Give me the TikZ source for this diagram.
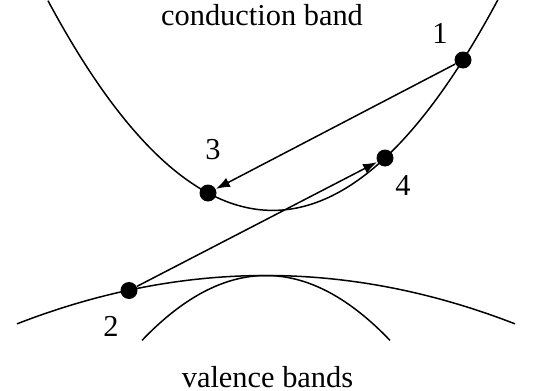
\documentclass[tikz,border=0pt]{standalone}
\usepackage{fontspec}
\setmainfont{Liberation Serif}
\usetikzlibrary{arrows.meta}
\begin{document}
\begin{tikzpicture}[x=5pt,y=-5pt,
  band/.style={line width=0.75pt},
  dot/.style={circle,fill=black,inner sep=0pt,minimum size=8.5pt},
  lbl/.style={font=\fontsize{15.2}{18}\selectfont,inner sep=0pt},
  trans/.style={line width=0.75pt,-{Latex[length=7pt,width=5pt]}}]
\useasboundingbox (0,0) rectangle (53.6,39.1);
% conduction band
\draw[band] plot[domain=4.8:49.8,samples=120] (\x,{21.04-0.04154*(\x-27.27)^2});
% valence bands
\draw[band] plot[domain=1.7:51.5,samples=120] (\x,{27.55+0.0078*(\x-26.6)^2});
\draw[band] plot[domain=14.2:39.0,samples=100] (\x,{27.55+0.0422*(\x-26.6)^2});
% points
\node[dot] (p1) at (46.3,6.0) {};
\node[dot] (p3) at (20.8,19.3) {};
\node[dot] (p4) at (38.5,15.8) {};
\node[dot] (p2) at (12.9,29.05) {};
% transitions
\draw[trans] (p1) -- (p3);
\draw[trans] (p2) -- (p4);
% labels
\node[lbl] (l1) at (44.0,3.3) {1};
\node[lbl] (l3) at (21.3,15.0) {3};
\node[lbl] (l4) at (40.3,18.5) {4};
\node[lbl] (l2) at (11.1,32.6) {2};
\node[lbl] (cb) at (26.2,1.5) {conduction band};
\node[lbl] (vb) at (26.75,37.7) {valence bands};
\end{tikzpicture}
\end{document}
